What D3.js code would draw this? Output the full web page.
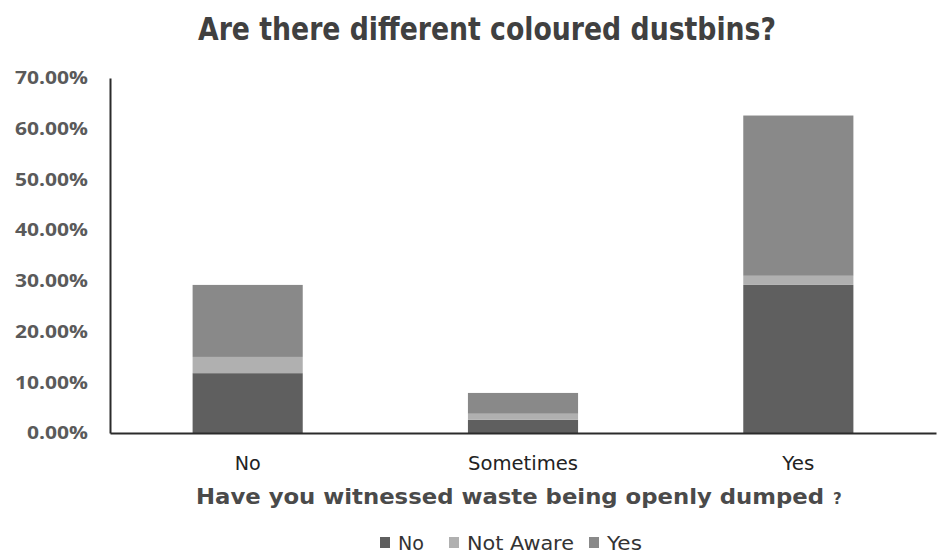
<!DOCTYPE html>
<html>
<head>
<meta charset="utf-8">
<script src="https://cdn.jsdelivr.net/npm/d3@7"></script>
<style>
  html, body { margin: 0; padding: 0; background: #fff; }
  svg { display: block; }
</style>
</head>
<body>
<svg id="chart" width="940" height="556"></svg>
<script>
// Answers to "Have you witnessed waste being openly dumped?"
const categories = ["No", "Sometimes", "Yes"];
// Answers to "Are there different coloured dustbins?" (share of respondents, %)
const seriesNames = ["No", "Not Aware", "Yes"];
const seriesNo = [11.8, 2.6, 29.2];
const seriesNotAware = [3.2, 1.2, 1.8];
const seriesYes = [14.2, 4.1, 31.6];
const yTicks = [0, 10, 20, 30, 40, 50, 60, 70];
const colors = ["#5f5f5f", "#b0b0b0", "#898989"];

const svg = d3.select("#chart");
const margin = { left: 110, right: 4, top: 78, bottom: 123 };
const W = 940, H = 556;
const narrow = "'DejaVu Sans', sans-serif";

const table = categories.map((c, i) => ({
  cat: c,
  "No": seriesNo[i],
  "Not Aware": seriesNotAware[i],
  "Yes": seriesYes[i]
}));
const stacked = d3.stack().keys(seriesNames)(table);

const x = d3.scaleBand()
  .domain(categories)
  .range([margin.left, W - margin.right])
  .paddingInner(0.6)
  .paddingOuter(0.3);

const y = d3.scaleLinear()
  .domain([0, 70])
  .range([H - margin.bottom, margin.top]);

const color = d3.scaleOrdinal().domain(seriesNames).range(colors);

// Squeeze a text node horizontally to a given width (condensed look)
function condense(sel, width) {
  sel.attr("textLength", width).attr("lengthAdjust", "spacingAndGlyphs");
}

// Title
svg.append("text")
  .attr("x", 487).attr("y", 40)
  .attr("text-anchor", "middle")
  .attr("font-family", narrow)
  .attr("font-size", 32).attr("font-weight", "bold")
  .attr("fill", "#404040")
  .text("Are there different coloured dustbins?")
  .call(condense, 578);

// Stacked bars
svg.append("g").selectAll("g")
  .data(stacked)
  .join("g")
  .attr("fill", d => color(d.key))
  .selectAll("rect")
  .data(d => d)
  .join("rect")
  .attr("x", d => x(d.data.cat))
  .attr("width", x.bandwidth())
  .attr("y", d => y(d[1]))
  .attr("height", d => y(d[0]) - y(d[1]));

// Y axis
const yAxis = svg.append("g")
  .attr("transform", `translate(${margin.left},0)`)
  .call(d3.axisLeft(y).tickValues(yTicks).tickSize(0).tickPadding(22)
    .tickFormat(d => d.toFixed(2) + "%"));
yAxis.select(".domain").attr("stroke", "#2b2b2b").attr("stroke-width", 2);
yAxis.selectAll("text")
  .attr("font-family", "'Open Sans', Lato, sans-serif")
  .attr("font-weight", "bold")
  .attr("font-size", 18)
  .attr("fill", "#5a5a5a")
  .each(function (d) { d3.select(this).call(condense, d < 10 ? 61 : 73); });

// X axis
const xAxis = svg.append("g")
  .attr("transform", `translate(0,${H - margin.bottom})`)
  .call(d3.axisBottom(x).tickSize(0).tickPadding(23));
xAxis.select(".domain").attr("stroke", "#2b2b2b").attr("stroke-width", 2);
const catWidths = { "No": 26, "Sometimes": 110, "Yes": 32 };
xAxis.selectAll("text")
  .attr("font-family", narrow)
  .attr("font-size", 20)
  .attr("fill", "#222")
  .each(function (d) { d3.select(this).call(condense, catWidths[d]); });

// X axis title
const xt = svg.append("text")
  .attr("x", 196).attr("y", 504)
  .attr("font-family", narrow)
  .attr("font-weight", "bold")
  .attr("font-size", 21)
  .attr("fill", "#4a4a4a");
xt.append("tspan").text("Have you witnessed waste being openly dumped")
  .call(condense, 628);
xt.append("tspan").attr("x", 833).attr("font-size", 15).text("?");

// Legend
const legendItems = [
  { key: "No", x: 380, w: 26 },
  { key: "Not Aware", x: 449, w: 107 },
  { key: "Yes", x: 589, w: 35 }
];
const lg = svg.append("g");
legendItems.forEach(it => {
  lg.append("rect")
    .attr("x", it.x).attr("y", 537)
    .attr("width", 10).attr("height", 11)
    .attr("fill", color(it.key));
  lg.append("text")
    .attr("x", it.x + 18).attr("y", 550)
    .attr("font-family", narrow)
    .attr("font-size", 19)
    .attr("fill", "#333")
    .text(it.key)
    .call(condense, it.w);
});
</script>
</body>
</html>
